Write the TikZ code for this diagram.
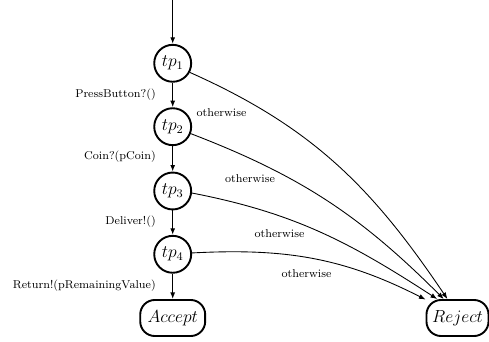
\documentclass[tikz,border=0pt]{standalone}
\usetikzlibrary{arrows.meta}
\begin{document}
\begin{tikzpicture}[x=0.685pt,y=-0.685pt,
  state/.style={circle,draw,line width=1.3pt,minimum size=25.3pt,inner sep=0pt,font=\fontsize{11.5}{13}\selectfont},
  final/.style={rectangle,draw,line width=1.3pt,rounded corners=10pt,minimum height=24.7pt,inner sep=1pt,font=\fontsize{11.5}{13}\selectfont},
  lab/.style={inner sep=0pt,font=\fontsize{7.8}{9}\selectfont},
  edge/.style={-{Latex[length=4.5pt,width=3.4pt]},line width=0.6pt},
  vedge/.style={-{Latex[length=4.5pt,width=3.4pt]},line width=0.8pt}]
\useasboundingbox (0,0) rectangle (489,342);
\coordinate (start) at (172.7,0);
\node[state] (tp1) at (172.7,63.3) {$tp_1$};
\node[state] (tp2) at (172.7,126.7) {$tp_2$};
\node[state] (tp3) at (172.7,191) {$tp_3$};
\node[state] (tp4) at (172.7,254.3) {$tp_4$};
\node[final,minimum width=44.5pt] (acc) at (172.7,318) {$Accept$};
\node[final,minimum width=42.5pt] (rej) at (457.5,318) {$Reject$};
\draw[vedge] (start) -- (tp1);
\draw[vedge] (tp1) -- (tp2);
\draw[vedge] (tp2) -- (tp3);
\draw[vedge] (tp3) -- (tp4);
\draw[vedge] (tp4) -- (acc);
\node[lab,anchor=east] (l1) at (156,94.3) {PressButton?()};
\node[lab,anchor=east] (l2) at (156,156.7) {Coin?(pCoin)};
\node[lab,anchor=east] (l3) at (156,221.7) {Deliver!()};
\node[lab,anchor=east] (l4) at (156,286) {Return!(pRemainingValue)};
\draw[edge] (tp1.-28) to[out=-24,in=124] (rej.118);
\draw[edge] (tp2.-21) to[out=-21,in=135] (rej.126);
\draw[edge] (tp3.-6) to[out=-11,in=147] (rej.137);
\draw[edge] (tp4.4) to[out=3,in=153] (rej.150);
\node[lab] (o1) at (221.5,113) {otherwise};
\node[lab] (o2) at (250,179) {otherwise};
\node[lab] (o3) at (279.5,233.3) {otherwise};
\node[lab] (o4) at (306.5,274) {otherwise};
\end{tikzpicture}
\end{document}
